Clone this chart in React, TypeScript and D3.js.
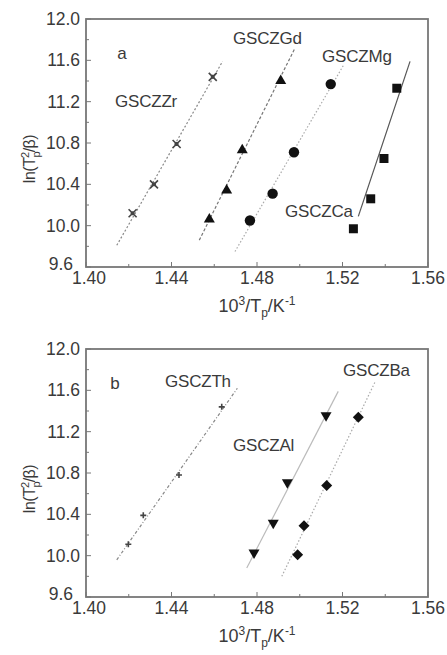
import React from 'react';
import * as d3 from 'd3';

// panel a
const zrX = [1.4218, 1.4318, 1.4424, 1.4593];
const zrY = [10.12, 10.4, 10.79, 11.44];
const zrFit = [[1.4144, 9.81], [1.4639, 11.59]];
const gdX = [1.4577, 1.4658, 1.4731, 1.4911];
const gdY = [10.07, 10.35, 10.74, 11.41];
const gdFit = [[1.453, 9.86], [1.4978, 11.72]];
const mgX = [1.4767, 1.4873, 1.4973, 1.5145];
const mgY = [10.05, 10.31, 10.71, 11.37];
const mgFit = [[1.4697, 9.75], [1.5204, 11.55]];
const caX = [1.5251, 1.5332, 1.5394, 1.5454];
const caY = [9.97, 10.26, 10.65, 11.33];
const caFit = [[1.5274, 10.09], [1.5516, 11.59]];

// panel b
const thX = [1.4198, 1.4268, 1.4435, 1.4635];
const thY = [10.11, 10.39, 10.78, 11.44];
const thFit = [[1.4144, 9.96], [1.4708, 11.62]];
const alX = [1.4786, 1.4876, 1.4942, 1.5123];
const alY = [10.02, 10.31, 10.7, 11.35];
const alFit = [[1.4752, 9.88], [1.518, 11.59]];
const baX = [1.499, 1.502, 1.5126, 1.5274];
const baY = [10.01, 10.29, 10.68, 11.34];
const baFit = [[1.4916, 9.8], [1.5352, 11.68]];

const xTicks = [1.4, 1.44, 1.48, 1.52, 1.56];
const yTicks = [9.6, 10.0, 10.4, 10.8, 11.2, 11.6, 12.0];

const FONT = '"Liberation Sans", Arial, sans-serif';
const INK = '#3a3a3a';

type Series = {
  xs: number[];
  ys: number[];
  fit: number[][];
  marker: string;
  dash: string;
  lineColor: string;
  lineWidth: number;
};

type Label = { text: string; x: number; y: number };

function markerPath(kind: string): string {
  switch (kind) {
    case 'times':
      return 'M-4,-4L4,4M-4,4L4,-4M-2,0L2,0M0,-2L0,2';
    case 'plus':
      return 'M-3,0L3,0M0,-3L0,3';
    case 'tri':
      return 'M0,-5.5L5.5,4L-5.5,4Z';
    case 'tridown':
      return 'M0,5.5L5.5,-4L-5.5,-4Z';
    case 'square':
      return 'M-4.5,-4.5L4.5,-4.5L4.5,4.5L-4.5,4.5Z';
    case 'diamond':
      return 'M0,-5.5L5.5,0L0,5.5L-5.5,0Z';
    default:
      return d3.symbol(d3.symbolCircle, 85)() || '';
  }
}

function Panel({ top, tag, series, labels }: { top: number; tag: Label; series: Series[]; labels: Label[] }) {
  const left = 86;
  const right = 428;
  const bottom = top + 248;
  const x = d3.scaleLinear().domain([1.4, 1.56]).range([left, right]);
  const y = d3.scaleLinear().domain([9.6, 12.0]).range([bottom, top]);
  const line = d3
    .line<number[]>()
    .x((d) => x(d[0]))
    .y((d) => y(d[1]));
  const xMinor = d3.range(0, 9).map((i) => 1.4 + i * 0.02);
  const yMinor = d3.range(0, 13).map((i) => 9.6 + i * 0.2);

  return (
    <g>
      {series.map((s, i) => (
        <path
          key={'l' + i}
          d={line(s.fit) || ''}
          fill="none"
          stroke={s.lineColor}
          strokeWidth={s.lineWidth}
          strokeDasharray={s.dash}
        />
      ))}
      {series.map((s, i) =>
        s.xs.map((v, j) => {
          const stroked = s.marker === 'times' || s.marker === 'plus';
          return (
            <path
              key={'m' + i + '-' + j}
              d={markerPath(s.marker)}
              transform={`translate(${x(v)},${y(s.ys[j])})`}
              fill={stroked ? 'none' : '#111'}
              stroke={stroked ? '#444' : 'none'}
              strokeWidth={stroked ? 1.6 : 0}
            />
          );
        })
      )}
      <rect x={left} y={top} width={right - left} height={bottom - top} fill="none" stroke="#777" strokeWidth={1.8} />
      {xMinor.map((v, i) => (
        <line key={'xt' + i} x1={x(v)} x2={x(v)} y1={bottom} y2={bottom - (i % 2 === 0 ? 5 : 3)} stroke="#777" strokeWidth={1} />
      ))}
      {yMinor.map((v, i) => (
        <line key={'yt' + i} x1={left} x2={left + (i % 2 === 0 ? 5 : 3)} y1={y(v)} y2={y(v)} stroke="#777" strokeWidth={1} />
      ))}
      {xTicks.map((v) => (
        <text key={'xl' + v} x={x(v) + (v === 1.4 ? 3 : 0)} y={bottom + 17} textAnchor="middle" fontSize={17.5} fill={INK} fontFamily={FONT}>
          {v.toFixed(2)}
        </text>
      ))}
      {yTicks.map((v) => (
        <text
          key={'yl' + v}
          x={v === 9.6 ? left - 13 : left - 6}
          y={y(v) + (v === 9.6 ? 3 : 6)}
          textAnchor="end"
          fontSize={17.5}
          fill={INK}
          fontFamily={FONT}
        >
          {v.toFixed(1)}
        </text>
      ))}
      <text x={257} y={bottom + 45} textAnchor="middle" fontSize={18} fill={INK} fontFamily={FONT}>
        10<tspan dy={-7} fontSize={12}>3</tspan>
        <tspan dy={7}>/T</tspan>
        <tspan dy={5} fontSize={12}>p</tspan>
        <tspan dy={-5}>/K</tspan>
        <tspan dy={-7} fontSize={12}>-1</tspan>
      </text>
      <text
        transform={`translate(35,${top + 140}) rotate(-90)`}
        textAnchor="middle"
        fontSize={16}
        fill={INK}
        fontFamily={FONT}
        letterSpacing={-0.5}
      >
        ln(T<tspan dy={5} fontSize={11}>p</tspan>
        <tspan dy={-11} dx={-6} fontSize={11}>2</tspan>
        <tspan dy={6}>/β)</tspan>
      </text>
      <text x={tag.x} y={tag.y} textAnchor="middle" fontSize={17} fill={INK} fontFamily={FONT}>
        {tag.text}
      </text>
      {labels.map((l) => (
        <text key={l.text} x={l.x} y={l.y} fontSize={17} fill={INK} fontFamily={FONT} letterSpacing={-0.2}>
          {l.text}
        </text>
      ))}
    </g>
  );
}

export default function App() {
  const panelA: Series[] = [
    { xs: zrX, ys: zrY, fit: zrFit, marker: 'times', dash: '2,2', lineColor: '#888', lineWidth: 1.2 },
    { xs: gdX, ys: gdY, fit: gdFit, marker: 'tri', dash: '3,2', lineColor: '#777', lineWidth: 1.2 },
    { xs: mgX, ys: mgY, fit: mgFit, marker: 'circle', dash: '1.5,2', lineColor: '#aaa', lineWidth: 1.2 },
    { xs: caX, ys: caY, fit: caFit, marker: 'square', dash: '', lineColor: '#555', lineWidth: 1.2 },
  ];
  const panelB: Series[] = [
    { xs: thX, ys: thY, fit: thFit, marker: 'plus', dash: '3,2,1,2', lineColor: '#888', lineWidth: 1.2 },
    { xs: alX, ys: alY, fit: alFit, marker: 'tridown', dash: '', lineColor: '#bbb', lineWidth: 1.2 },
    { xs: baX, ys: baY, fit: baFit, marker: 'diamond', dash: '1.5,2', lineColor: '#aaa', lineWidth: 1.2 },
  ];
  return (
    <svg width={447} height={655} style={{ position: 'absolute', left: 0, top: 0, background: '#fff' }}>
      <Panel
        top={19}
        tag={{ text: 'a', x: 122, y: 59 }}
        series={panelA}
        labels={[
          { text: 'GSCZZr', x: 115, y: 107 },
          { text: 'GSCZGd', x: 233, y: 44 },
          { text: 'GSCZMg', x: 322, y: 62 },
          { text: 'GSCZCa', x: 285, y: 217 },
        ]}
      />
      <Panel
        top={349}
        tag={{ text: 'b', x: 115, y: 389 }}
        series={panelB}
        labels={[
          { text: 'GSCZTh', x: 165, y: 387 },
          { text: 'GSCZAl', x: 233, y: 451 },
          { text: 'GSCZBa', x: 343, y: 376 },
        ]}
      />
    </svg>
  );
}
